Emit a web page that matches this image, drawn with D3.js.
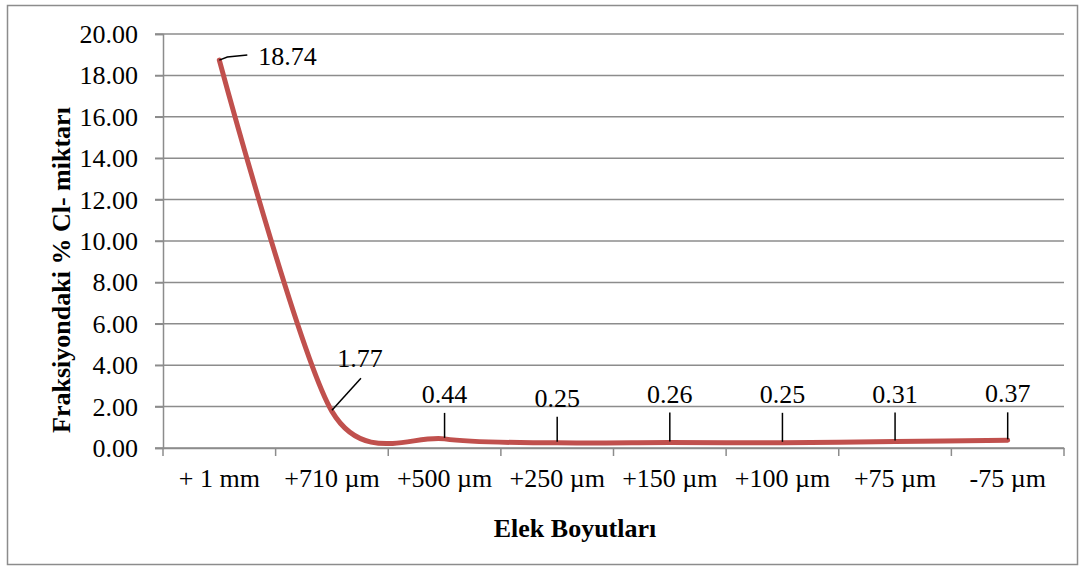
<!DOCTYPE html>
<html lang="tr">
<head>
<meta charset="UTF-8" />
<title>Elek Boyutları</title>
<script src="https://d3js.org/d3.v7.min.js"></script>
<style>
  body { margin: 0; background: #fff; }
  svg text { font-family: "Liberation Serif", "Times New Roman", Tinos, "DejaVu Serif", serif !important; fill: #000; }
</style>
</head>
<body>
<svg width="1084" height="566"></svg>
<script>
  // veriler
  const categories = ["+ 1 mm", "+710 µm", "+500 µm", "+250 µm", "+150 µm", "+100 µm", "+75 µm", "-75 µm"];
  const values = [18.74, 1.77, 0.44, 0.25, 0.26, 0.25, 0.31, 0.37];
  const yTicks = [0, 2, 4, 6, 8, 10, 12, 14, 16, 18, 20];
  // etiket kaydırmaları (dx, dy) noktaya göre
  const labelOffsets = [[39, 5], [28, -44], [0, -36], [0, -36], [0, -40], [0, -40], [0, -39], [0, -38]];

  const svg = d3.select("svg");
  const margin = { left: 163, right: 1064, top: 34, bottom: 448 };
  const fs = 26;

  // dış çerçeve
  svg.append("rect")
    .attr("x", 7.5).attr("y", 5.5)
    .attr("width", 1070).attr("height", 559)
    .attr("fill", "#fff").attr("stroke", "#8c8c8c").attr("stroke-width", 1.5);

  const x = d3.scaleBand().domain(categories).range([margin.left, margin.right]);
  const y = d3.scaleLinear().domain([0, 20]).range([margin.bottom, margin.top]);

  // yatay ızgara çizgileri
  svg.append("g")
    .selectAll("line")
    .data(yTicks)
    .join("line")
    .attr("x1", margin.left - 8).attr("x2", margin.right)
    .attr("y1", d => y(d)).attr("y2", d => y(d))
    .attr("stroke", "#8c8c8c").attr("stroke-width", 1.5);

  // y ekseni
  const yAxis = svg.append("g")
    .attr("transform", `translate(${margin.left},0)`)
    .call(d3.axisLeft(y).tickValues(yTicks).tickFormat(d3.format(".2f")).tickSize(8).tickPadding(17));
  yAxis.select(".domain").attr("stroke", "#8c8c8c").attr("stroke-width", 1.5);
  yAxis.selectAll(".tick line").attr("stroke", "#8c8c8c").attr("stroke-width", 1.5);
  yAxis.selectAll("text").attr("font-size", fs).attr("dy", "0.33em");

  // x ekseni
  const xAxis = svg.append("g")
    .attr("transform", `translate(0,${margin.bottom})`)
    .call(d3.axisBottom(x).tickSize(0));
  xAxis.select(".domain").attr("stroke", "#8c8c8c").attr("stroke-width", 1.5);
  xAxis.selectAll("text").attr("font-size", fs).attr("y", 39).attr("dy", "0");

  // kategori sınır çentikleri
  svg.append("g")
    .selectAll("line")
    .data(d3.range(categories.length + 1))
    .join("line")
    .attr("x1", i => margin.left + i * x.bandwidth())
    .attr("x2", i => margin.left + i * x.bandwidth())
    .attr("y1", margin.bottom).attr("y2", margin.bottom + 8)
    .attr("stroke", "#8c8c8c").attr("stroke-width", 1.5);

  // eğri
  const cx = (d, i) => x(categories[i]) + x.bandwidth() / 2;
  const line = d3.line()
    .x(cx)
    .y(d => y(d))
    .curve(d3.curveCardinal.tension(0.15));

  svg.append("path")
    .datum(values)
    .attr("d", line)
    .attr("fill", "none")
    .attr("stroke", "#C0504D")
    .attr("stroke-width", 5)
    .attr("stroke-linecap", "round");

  // veri etiketleri ve çizgileri
  const labels = svg.append("g");
  values.forEach((v, i) => {
    const px = cx(v, i), py = y(v);
    const [dx, dy] = labelOffsets[i];
    if (i === 0) {
      labels.append("path")
        .attr("d", `M${px},${py} L${px + 8},${py - 3} L${px + 28},${py - 5}`)
        .attr("fill", "none").attr("stroke", "#000").attr("stroke-width", 1.5);
      labels.append("text")
        .attr("x", px + dx).attr("y", py + dy)
        .attr("font-size", fs).text(v.toFixed(2));
    } else if (i === 1) {
      labels.append("line")
        .attr("x1", px).attr("y1", py - 1)
        .attr("x2", px + 29).attr("y2", py - 33)
        .attr("stroke", "#000").attr("stroke-width", 1.5);
      labels.append("text")
        .attr("x", px + dx).attr("y", py + dy)
        .attr("text-anchor", "middle").attr("font-size", fs).text(v.toFixed(2));
    } else {
      labels.append("line")
        .attr("x1", px).attr("y1", py - 1)
        .attr("x2", px).attr("y2", py + dy + 10)
        .attr("stroke", "#000").attr("stroke-width", 1.5);
      labels.append("text")
        .attr("x", px + dx).attr("y", py + dy)
        .attr("text-anchor", "middle").attr("font-size", fs).text(v.toFixed(2));
    }
  });

  // eksen başlıkları
  svg.append("text")
    .attr("x", 575).attr("y", 537)
    .attr("text-anchor", "middle").attr("font-size", 26).attr("font-weight", "bold")
    .text("Elek Boyutları");

  svg.append("text")
    .attr("transform", "translate(70,270) rotate(-90)")
    .attr("text-anchor", "middle").attr("font-size", 26).attr("font-weight", "bold")
    .text("Fraksiyondaki % Cl- miktarı");
</script>
</body>
</html>
